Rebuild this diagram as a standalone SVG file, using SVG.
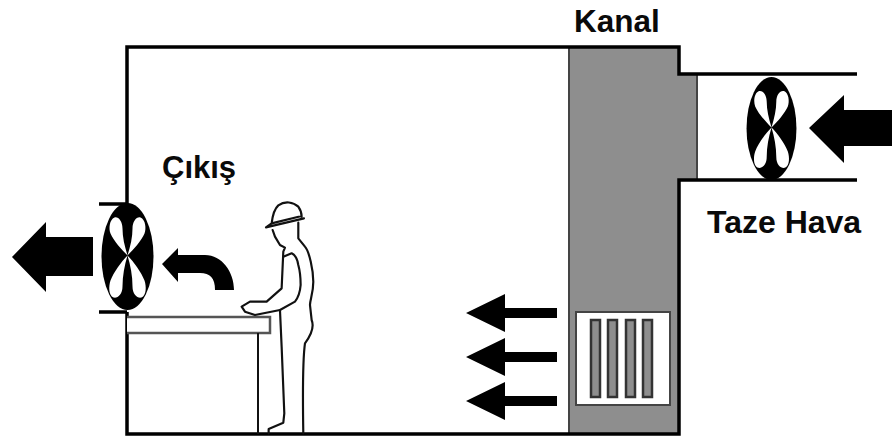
<svg xmlns="http://www.w3.org/2000/svg" width="892" height="441" viewBox="0 0 892 441">
<style>
.t{font-family:"Liberation Sans",Arial,sans-serif;font-weight:700;fill:#0a0a0a}
.w{fill:none;stroke:#000;stroke-width:3.5}
.a{fill:#000}
.o{fill:none;stroke:#111;stroke-width:6.5;stroke-linejoin:round;stroke-linecap:round}
</style>
<defs>
<g id="fanblades">
<ellipse cx="0" cy="1" rx="26" ry="53.5" fill="#000"/>
<path fill="#fff" d="M0 0C-3 -10 -5 -18 -5 -27C-5 -34 -9 -39 -13 -38C-18 -36 -19 -27 -17 -22C-14 -15 -6 -6 0 0Z"/>
<path fill="#fff" d="M0 0C3 -10 5 -18 5 -27C5 -34 9 -39 13 -38C18 -36 19 -27 17 -22C14 -15 6 -6 0 0Z"/>
<path fill="#fff" d="M0 0C-3 10 -5 20 -5 31C-5 39 -10 43 -14 42C-19 40 -19 31 -17 25C-14 17 -6 6 0 0Z"/>
<path fill="#fff" d="M0 0C3 10 5 20 5 31C5 39 10 43 14 42C19 40 19 31 17 25C14 17 6 6 0 0Z"/>
</g>
<path id="smallarrow" d="M0 0L39 -19V-5H91V5H39V19Z"/>
</defs>
<rect width="892" height="441" fill="#fff"/>
<g id="duct">
<path d="M569 47H679V75H697V179H679V434H569Z" fill="#8e8e8e"/>
<path d="M569 47V434M697 75V179" fill="none" stroke="#444" stroke-width="2"/>
</g>
<g id="room">
<path class="w" d="M127 204V47H679V74H857M857 180H679V434H127V312"/>
<path class="w" d="M99 204H127M99 312H127"/>
</g>
<g id="grille">
<rect x="576" y="312" width="94" height="93" fill="#fff" stroke="#444" stroke-width="2"/>
<g fill="#8e8e8e" stroke="#333" stroke-width="2.5">
<rect x="591" y="320" width="9" height="77"/>
<rect x="608" y="320" width="9" height="77"/>
<rect x="626" y="320" width="9" height="77"/>
<rect x="643" y="320" width="9" height="77"/>
</g>
</g>
<g id="table">
<path d="M127 317H270V333H127" fill="#fff" stroke="#555" stroke-width="2.5"/>
<path d="M258 333V434" stroke="#111" stroke-width="2"/>
</g>
<g id="worker" transform="translate(0 180) scale(.3333)">
<path class="o" d="M806 760V747L850 728L853 700L845 500L840 390L765 405L735 395L725 380L750 365L800 365L845 325L850 215L855 203L840 195L825 170L818 150"/>
<path class="o" d="M798 142L912 115M798 142L815 130L905 108M815 130C818 105 825 85 835 76C855 62 880 66 895 80C902 90 905 100 905 110"/>
<path class="o" d="M895 128L895 175L915 200C928 215 940 270 940 305C940 340 930 360 930 375L935 420C945 445 930 470 915 490C908 540 908 640 910 760"/>
<path class="o" d="M850 230L875 220C885 225 893 240 895 255C902 280 902 300 902 315C900 340 893 355 885 365L840 390"/>
</g>
<g id="fan-left" transform="translate(127.5 255.5)"><use href="#fanblades"/></g>
<g id="fan-right" transform="translate(771.5 127.5) scale(.96)"><use href="#fanblades"/></g>
<g id="connectors">
<path class="a" d="M12 257L46 222V237H93V276H46V292Z"/>
<path class="a" d="M162 264L178 248V255H205C222 255 234 272 234 290H215C215 278 210 273 200 273H178V282Z"/>
<path class="a" d="M809 128L844 95V110H892V146H844V163Z"/>
<use class="a" href="#smallarrow" x="466" y="313"/>
<use class="a" href="#smallarrow" x="466" y="357"/>
<use class="a" href="#smallarrow" x="466" y="401"/>
</g>
<g id="labels">
<text class="t" x="574" y="32" font-size="31.5">Kanal</text>
<text class="t" x="707" y="233" font-size="32">Taze Hava</text>
<text class="t" x="162" y="178" font-size="31">Çıkış</text>
</g>
</svg>
